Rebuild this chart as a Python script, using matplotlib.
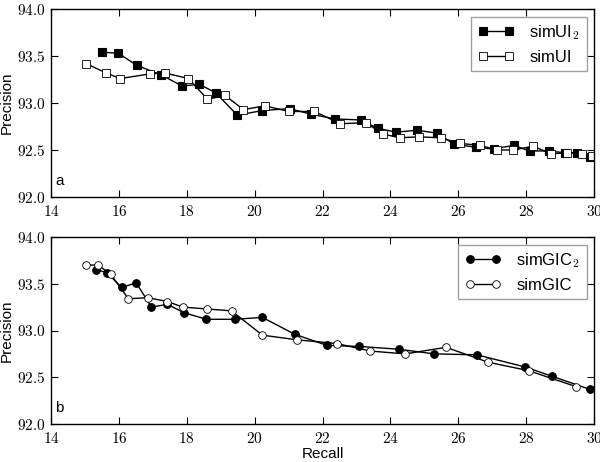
import matplotlib
matplotlib.use("Agg")
import matplotlib.pyplot as plt
from matplotlib.ticker import FuncFormatter, MultipleLocator

plt.rcParams["font.family"] = ["Liberation Sans", "DejaVu Sans"]
plt.rcParams["mathtext.fontset"] = "cm"

# panel a: simUI2 (filled squares) and simUI (open squares)
ui2_recall = [15.5, 15.98, 16.53, 17.24, 17.87, 18.36, 18.85, 19.49, 20.23, 21.03,
              21.67, 22.38, 23.12, 23.63, 24.17, 24.78, 25.37, 25.88, 26.52, 27.04,
              27.63, 28.1, 28.66, 29.15, 29.49, 29.88]
ui2_prec = [93.54, 93.53, 93.40, 93.30, 93.18, 93.20, 93.11, 92.87, 92.92, 92.94,
            92.88, 92.83, 92.82, 92.73, 92.69, 92.71, 92.68, 92.56, 92.53, 92.51,
            92.55, 92.49, 92.49, 92.47, 92.47, 92.43]
ui_recall = [15.03, 15.62, 16.04, 16.92, 17.35, 18.05, 18.61, 19.13, 19.67, 20.3,
             21.01, 21.76, 22.53, 23.27, 23.79, 24.27, 24.83, 25.48, 26.04, 26.63,
             27.15, 27.62, 28.21, 28.73, 29.2, 29.64, 29.95]
ui_prec = [93.42, 93.32, 93.26, 93.31, 93.32, 93.26, 93.04, 93.08, 92.93, 92.97,
           92.91, 92.91, 92.78, 92.79, 92.67, 92.63, 92.64, 92.63, 92.57, 92.55,
           92.50, 92.50, 92.54, 92.46, 92.47, 92.46, 92.44]

# panel b: simGIC2 (filled circles) and simGIC (open circles)
gic2_recall = [15.32, 15.65, 16.08, 16.51, 16.96, 17.43, 17.92, 18.58, 19.42, 20.23,
               21.18, 22.14, 23.07, 24.24, 25.29, 26.55, 27.97, 28.77, 29.88]
gic2_prec = [93.65, 93.62, 93.46, 93.51, 93.25, 93.28, 93.19, 93.12, 93.12, 93.14,
             92.96, 92.84, 92.83, 92.80, 92.75, 92.74, 92.61, 92.51, 92.37]
gic_recall = [15.03, 15.39, 15.76, 16.28, 16.86, 17.43, 17.89, 18.61, 19.32, 20.23,
              21.26, 22.43, 23.41, 24.44, 25.64, 26.89, 28.08, 29.47]
gic_prec = [93.70, 93.70, 93.60, 93.34, 93.35, 93.31, 93.25, 93.23, 93.21, 92.95,
            92.90, 92.86, 92.78, 92.75, 92.82, 92.66, 92.57, 92.40]

fig = plt.figure(figsize=(6, 4.62), dpi=100)
ax1 = fig.add_axes([51 / 600, 1 - 197 / 462, 543 / 600, 188 / 462])
ax2 = fig.add_axes([51 / 600, 1 - 424 / 462, 543 / 600, 187 / 462])

line_kw = dict(color="black", linewidth=1.0, markeredgecolor="black")
ms = 5.5

ax1.plot(ui2_recall, ui2_prec, marker="s", markersize=ms, markerfacecolor="black",
         markeredgewidth=0.8, label=r"simUI$_\mathsf{2}$", **line_kw)
ax1.plot(ui_recall, ui_prec, marker="s", markersize=ms, markerfacecolor="white",
         markeredgewidth=0.6, label="simUI", **line_kw)

ax2.plot(gic2_recall, gic2_prec, marker="o", markersize=ms, markerfacecolor="black",
         markeredgewidth=0.8, label=r"simGIC$_\mathsf{2}$", **line_kw)
ax2.plot(gic_recall, gic_prec, marker="o", markersize=ms, markerfacecolor="white",
         markeredgewidth=0.6, label="simGIC", **line_kw)

xfmt = FuncFormatter(lambda v, p: f"${v:.0f}$")
yfmt = FuncFormatter(lambda v, p: f"${v:.1f}$")

for ax, tag in ((ax1, "a"), (ax2, "b")):
    ax.set_xlim(14, 30)
    ax.set_ylim(92.0, 94.0)
    ax.xaxis.set_major_locator(MultipleLocator(2))
    ax.yaxis.set_major_locator(MultipleLocator(0.5))
    ax.xaxis.set_major_formatter(xfmt)
    ax.yaxis.set_major_formatter(yfmt)
    ax.tick_params(direction="in", top=True, right=True, length=5, width=0.8,
                   labelsize=11)
    ax.tick_params(axis="y", pad=4)
    ax.tick_params(axis="x", pad=5)
    for s in ax.spines.values():
        s.set_linewidth(1.0)
    ax.set_ylabel("Precision", fontsize=11, labelpad=2)
    ax.text(0.008, 0.05, tag, transform=ax.transAxes, fontsize=11,
            ha="left", va="bottom")
    leg = ax.legend(loc="upper right", numpoints=2, fontsize=12, fancybox=False,
                    handlelength=2.2, borderpad=0.4, labelspacing=0.45,
                    handletextpad=0.9, borderaxespad=0.45)
    leg.get_frame().set_edgecolor("#888888")
    leg.get_frame().set_linewidth(1.0)

ax2.set_xlabel("Recall", fontsize=11, labelpad=1)

fig.savefig("out.png", dpi=100)
